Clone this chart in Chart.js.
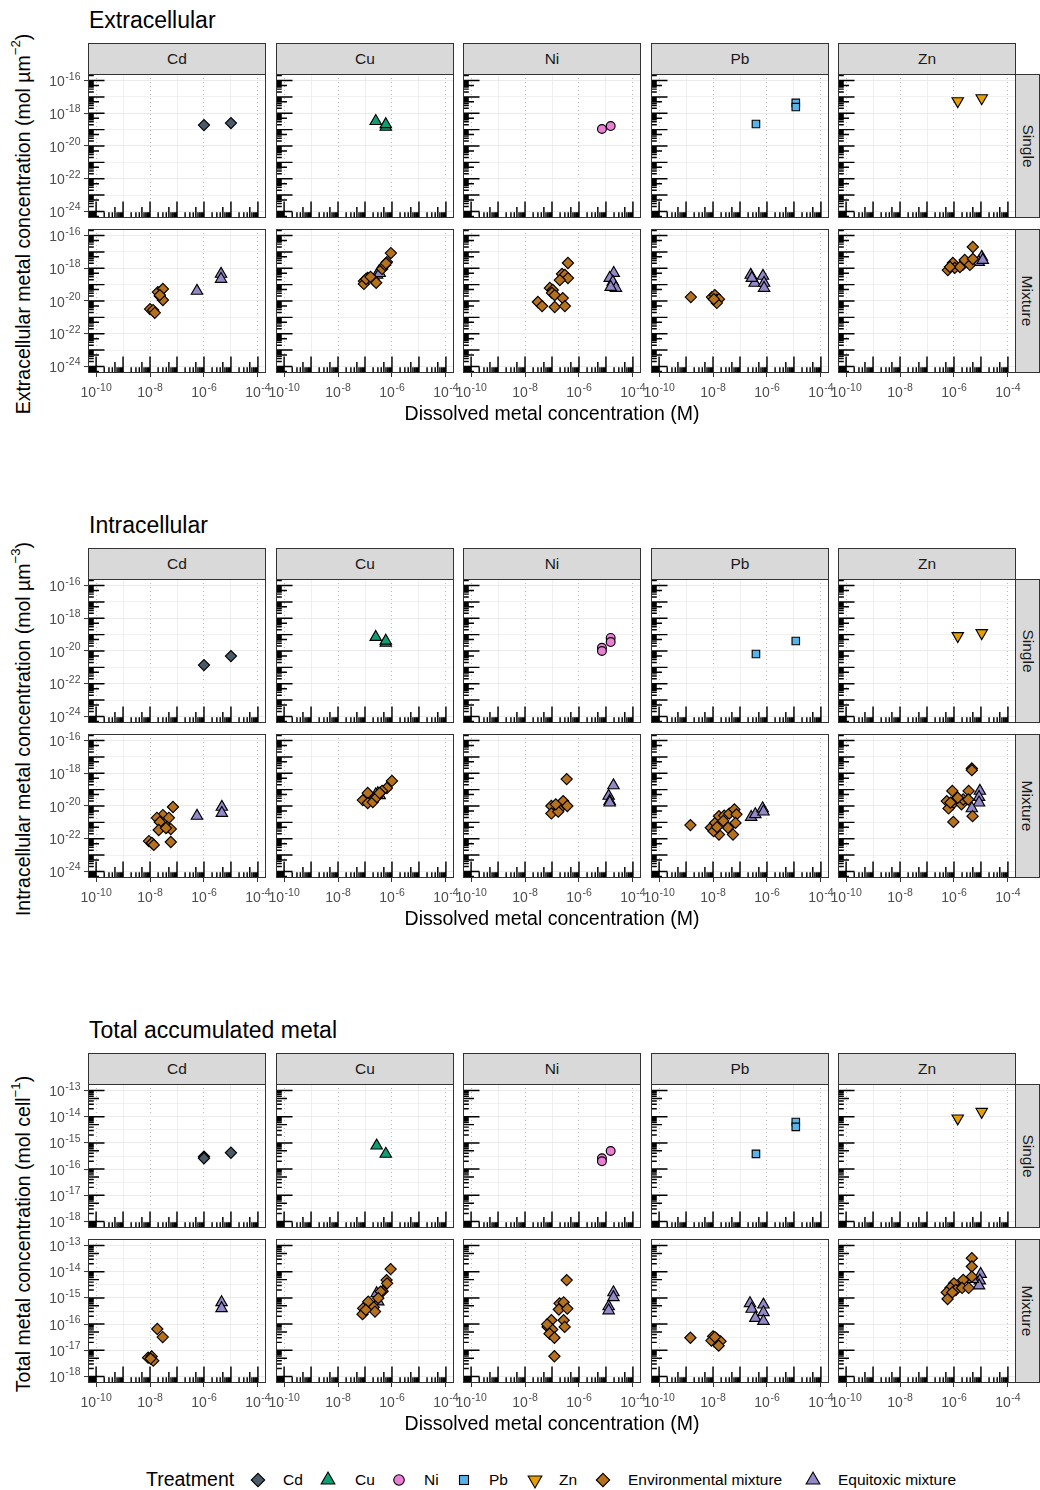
<!DOCTYPE html>
<html lang="en">
<head>
<meta charset="utf-8">
<title>Metal accumulation vs dissolved metal concentration</title>
<script src="https://cdn.jsdelivr.net/npm/chart.js@4.4.1/dist/chart.umd.min.js"></script>
<style>
  html, body { margin: 0; padding: 0; background: #ffffff; }
  body { position: relative; width: 1040px; height: 1490px; overflow: hidden;
         font-family: "Liberation Sans", Arial, Helvetica, sans-serif; color: #000; }
  .abs { position: absolute; white-space: nowrap; }
  .sec-title { font-size: 23px; line-height: 1; }
  .strip-top { background: #d9d9d9; border: 1px solid #333; box-sizing: border-box;
               display: flex; align-items: center; justify-content: center;
               font-size: 15.5px; color: #1a1a1a; }
  .strip-right { background: #d9d9d9; border: 1px solid #333; box-sizing: border-box;
                 display: flex; align-items: center; justify-content: center;
                 font-size: 15.5px; color: #1a1a1a; }
  .strip-right span { display: inline-block; transform: rotate(90deg); }
  .axis-title { font-size: 19.5px; line-height: 1; }
  .axis-title sup { font-size: 0.68em; position: relative; top: -0.15em; }
  .legend-title { font-size: 19.5px; line-height: 1; }
  .legend-text { font-size: 15.5px; line-height: 1; }
  canvas { position: absolute; }
</style>
</head>
<body>
<script>
// ---------------- data ----------------
const metals = ['Cd', 'Cu', 'Ni', 'Pb', 'Zn'];
const rowNames = ['Single', 'Mixture'];
const treatmentNames = ['Cd', 'Cu', 'Ni', 'Pb', 'Zn', 'Environmental mixture', 'Equitoxic mixture'];

// dissolved metal concentration axis (M)
const xLimits = [1e-10, 1e-4];
const xBreaks = [1e-10, 1e-8, 1e-6, 1e-4];
const xMinor = [1e-9, 1e-7, 1e-5];

// surface / volume based concentration axes (mol µm^-2, mol µm^-3)
const concLimits = [1e-24, 1e-16];
const concBreaks = [1e-24, 1e-22, 1e-20, 1e-18, 1e-16];
const concMinor = [1e-23, 1e-21, 1e-19, 1e-17];

// per-cell axis (mol cell^-1)
const cellLimits = [1e-18, 1e-13];
const cellBreaks = [1e-18, 1e-17, 1e-16, 1e-15, 1e-14, 1e-13];
const cellMinor = [3.16e-18, 3.16e-17, 3.16e-16, 3.16e-15, 3.16e-14];

// Extracellular, [dissolved M, mol µm^-2], one list per metal (Cd, Cu, Ni, Pb, Zn)
const extSingle = [
  [[1.0e-6, 1.9e-19], [1.0e-5, 2.5e-19]],
  [[2.5e-7, 3.3e-19], [5.9e-7, 1.45e-19], [5.9e-7, 2.1e-19]],
  [[7.1e-6, 1.1e-19], [1.5e-5, 1.65e-19]],
  [[3.9e-7, 2.2e-19], [1.17e-5, 4.3e-18], [1.17e-5, 2.4e-18]],
  [[1.38e-6, 5.6e-18], [1.07e-5, 8.5e-18]]
];
const extEnv = [
  [[1.95e-8, 3.5e-20], [3.0e-8, 5.4e-20], [2.3e-8, 2.0e-20], [3.0e-8, 1.15e-20], [1.0e-8, 3.2e-21],
   [1.3e-8, 2.8e-21], [1.5e-8, 1.9e-21], [2.3e-8, 2.3e-20]],
  [[9.1e-8, 1.65e-19], [9.1e-8, 1.1e-19], [1.26e-7, 2.6e-19], [2.1e-7, 1.9e-19], [4.3e-7, 9.1e-19],
   [5.5e-7, 1.6e-18], [6.5e-7, 2.4e-18], [9.1e-7, 8.5e-18], [1.1e-7, 2.2e-19], [2.6e-7, 1.3e-19],
   [1.6e-7, 3.0e-19], [6.0e-7, 2.0e-18]],
  [[3.9e-7, 2.1e-18], [2.35e-7, 4.5e-19], [3.0e-7, 3.9e-19], [3.9e-7, 2.5e-19], [1.95e-7, 1.9e-19],
   [8.3e-8, 6.2e-20], [1.07e-7, 4.7e-20], [1.0e-7, 3.1e-20], [1.26e-7, 2.3e-20], [2.5e-7, 1.5e-20],
   [3.0e-8, 8.7e-21], [4.3e-8, 4.9e-21], [1.26e-7, 4.3e-21], [3.0e-7, 4.9e-21]],
  [[1.5e-9, 1.74e-20], [9.1e-9, 1.74e-20], [1.17e-8, 2.3e-20], [1.38e-8, 1.15e-20], [1.66e-8, 1.3e-20],
   [1.38e-8, 7.6e-21], [1.07e-8, 1.3e-20]],
  [[5.9e-7, 7.8e-19], [9.1e-7, 2.1e-18], [1.07e-6, 1.05e-18], [2.1e-6, 1.6e-18], [2.5e-6, 3.2e-18],
   [3.9e-6, 1.6e-18], [5.0e-6, 3.7e-18], [5.0e-6, 2.0e-17], [1.66e-6, 1.2e-18], [7.1e-7, 1.2e-18]]
];
const extEqui = [
  [[5.5e-7, 4.1e-20], [4.3e-6, 4.5e-19], [4.3e-6, 2.2e-19]],
  [[2.8e-7, 4.0e-19], [3.2e-7, 6.0e-19], [3.5e-7, 5.0e-19]],
  [[1.95e-5, 5.1e-19], [1.38e-5, 2.5e-19], [1.8e-5, 1.45e-19], [2.35e-5, 6.2e-20], [1.5e-5, 7.1e-20]],
  [[2.5e-7, 3.9e-19], [3.5e-7, 1.26e-19], [7.1e-7, 3.4e-19], [7.8e-7, 1.26e-19], [7.8e-7, 6.2e-20],
   [2.75e-7, 2.5e-19]],
  [[1.07e-5, 4.9e-18], [8.3e-6, 2.4e-18], [1.17e-5, 3.2e-18]]
];

// Intracellular, [dissolved M, mol µm^-3]
const intSingle = [
  [[1.0e-6, 1.38e-21], [1.0e-5, 4.9e-21]],
  [[2.5e-7, 7.1e-20], [5.9e-7, 3.1e-20], [5.9e-7, 4.2e-20]],
  [[7.1e-6, 1.58e-20], [7.1e-6, 1.0e-20], [1.5e-5, 6.3e-20], [1.5e-5, 3.5e-20]],
  [[3.9e-7, 6.6e-21], [1.17e-5, 4.1e-20]],
  [[1.38e-6, 8.3e-20], [1.07e-5, 1.26e-19]]
];
const intEnv = [
  [[7.1e-8, 8.7e-21], [3.0e-8, 2.8e-21], [1.8e-8, 1.9e-21], [5.0e-8, 1.9e-21], [2.3e-8, 1.05e-21],
   [4.3e-8, 5.2e-22], [5.9e-8, 3.9e-22], [2.1e-8, 3.4e-22], [3.9e-8, 4.5e-22], [5.9e-8, 6.3e-23],
   [9.1e-9, 7.2e-23], [1.17e-8, 5.5e-23], [1.38e-8, 4.2e-23]],
  [[1.0e-6, 3.4e-19], [6.5e-7, 1.26e-19], [4.3e-7, 8.3e-20], [1.26e-7, 6.2e-20], [2.35e-7, 3.1e-20],
   [8.3e-8, 2.3e-20], [1.26e-7, 1.5e-20], [1.95e-7, 1.74e-20], [2.75e-7, 3.5e-20], [3.5e-7, 6.2e-20]],
  [[3.5e-7, 4.4e-19], [9.5e-8, 1.0e-20], [9.5e-8, 3.5e-21], [1.8e-7, 6.2e-21], [2.6e-7, 2.0e-20],
   [3.7e-7, 1.0e-20], [1.7e-7, 4.5e-21], [1.38e-7, 1.26e-20]],
  [[1.45e-9, 6.8e-22], [8.3e-9, 4.7e-22], [1.2e-8, 9.3e-22], [1.66e-8, 2.4e-21], [2.6e-8, 2.6e-21],
   [4.0e-8, 3.4e-21], [6.2e-8, 6.2e-21], [7.4e-8, 3.1e-21], [2.4e-8, 1.23e-21], [3.6e-8, 4.7e-22],
   [1.66e-8, 1.8e-22], [5.5e-8, 1.8e-22], [1.05e-8, 2.9e-22], [6.8e-8, 9.3e-22], [1.4e-8, 5.1e-22]],
  [[4.6e-6, 1.95e-18], [4.6e-6, 1.55e-18], [8.7e-7, 8.3e-20], [5.4e-7, 2.0e-20], [6.3e-7, 7.1e-21],
   [1.17e-6, 2.5e-20], [1.0e-6, 1.6e-20], [1.9e-6, 1.26e-20], [2.2e-6, 2.5e-20], [3.5e-6, 8.3e-20],
   [3.4e-6, 2.5e-20], [1.38e-6, 3.2e-20], [4.9e-6, 2.4e-21], [9.5e-7, 1.07e-21], [7.4e-7, 1.6e-20]]
];
const intEqui = [
  [[5.5e-7, 2.45e-21], [4.6e-6, 8.7e-21], [4.6e-6, 3.7e-21]],
  [[3.0e-7, 6.0e-20], [3.5e-7, 4.5e-20], [2.5e-7, 5.0e-20]],
  [[1.9e-5, 1.8e-19], [1.26e-5, 4.1e-20], [1.38e-5, 2.0e-20], [1.38e-5, 1.6e-20]],
  [[2.6e-7, 2.1e-21], [3.7e-7, 3.1e-21], [6.9e-7, 7.1e-21], [7.4e-7, 4.5e-21]],
  [[9.1e-6, 8.3e-20], [8.5e-6, 3.5e-20], [8.5e-6, 1.6e-20], [4.6e-6, 7.1e-21]]
];

// Total accumulated, [dissolved M, mol cell^-1]
const totSingle = [
  [[1.0e-6, 3.0e-16], [1.0e-6, 2.6e-16], [1.0e-5, 4.2e-16]],
  [[2.7e-7, 7.8e-16], [5.9e-7, 3.8e-16]],
  [[7.1e-6, 2.6e-16], [7.1e-6, 2.0e-16], [1.5e-5, 4.9e-16]],
  [[3.9e-7, 3.8e-16], [1.17e-5, 6.3e-15], [1.17e-5, 4.1e-15]],
  [[1.38e-6, 8.7e-15], [1.07e-5, 1.55e-14]]
];
const totEnv = [
  [[1.86e-8, 6.5e-17], [2.95e-8, 3.2e-17], [8.5e-9, 5.2e-18], [1.15e-8, 5.8e-18], [1.32e-8, 4.0e-18],
   [1.05e-8, 4.8e-18]],
  [[8.9e-7, 1.26e-14], [6.3e-7, 4.8e-15], [6.6e-7, 3.6e-15], [4.5e-7, 1.8e-15], [3.8e-7, 1.74e-15],
   [1.32e-7, 7.2e-16], [8.5e-8, 4.0e-16], [8.1e-8, 2.4e-16], [2.1e-7, 4.4e-16], [2.35e-7, 3.0e-16],
   [1.07e-7, 3.5e-16], [3.1e-7, 9.8e-16]],
  [[3.5e-7, 4.8e-15], [1.9e-7, 6.2e-16], [2.7e-7, 6.8e-16], [1.8e-7, 3.6e-16], [3.7e-7, 3.9e-16],
   [2.7e-7, 1.4e-16], [2.95e-7, 7.8e-17], [9.5e-8, 1.4e-16], [6.9e-8, 7.8e-17], [1.02e-7, 6.2e-17],
   [8.1e-8, 4.3e-17], [1.23e-7, 3.0e-17], [1.23e-7, 5.9e-18], [6.6e-8, 9.8e-17]],
  [[1.45e-9, 3.0e-17], [1.0e-8, 3.4e-17], [1.38e-8, 2.75e-17], [1.9e-8, 2.2e-17], [1.62e-8, 1.5e-17],
   [8.7e-9, 2.35e-17], [1.17e-8, 3.2e-17]],
  [[4.6e-6, 3.3e-14], [4.6e-6, 1.58e-14], [4.6e-6, 6.5e-15], [2.2e-6, 4.9e-15], [1.17e-6, 2.95e-15],
   [1.0e-6, 3.6e-15], [7.4e-7, 2.4e-15], [5.4e-7, 1.62e-15], [5.8e-7, 9.1e-16], [1.17e-6, 2.0e-15],
   [2.0e-6, 2.4e-15], [3.5e-6, 2.4e-15], [8.7e-7, 1.62e-15]]
];
const totEqui = [
  [[4.5e-6, 6.8e-16], [4.5e-6, 4.0e-16]],
  [[2.7e-7, 1.5e-15], [3.1e-7, 7.2e-16]],
  [[1.9e-5, 1.62e-15], [1.9e-5, 1.05e-15], [1.26e-5, 4.7e-16], [1.26e-5, 3.3e-16]],
  [[2.35e-7, 6.2e-16], [2.7e-7, 3.8e-16], [3.7e-7, 1.7e-16], [7.4e-7, 5.5e-16], [7.4e-7, 2.8e-16],
   [7.4e-7, 1.3e-16]],
  [[9.8e-6, 8.1e-15], [9.1e-6, 4.6e-15], [8.5e-6, 2.95e-15], [4.9e-6, 5.2e-15]]
];

// ---------------- styling ----------------
const singleStyles = [
  { shape: 'rectRot',  rotation: 0,   radius: 5.6, color: '#4b5a68' },  // Cd
  { shape: 'triangle', rotation: 0,   radius: 6.6, color: '#0e9e74' },  // Cu
  { shape: 'circle',   rotation: 0,   radius: 4.4, color: '#ea7fd6' },  // Ni
  { shape: 'rect',     rotation: 0,   radius: 5.3, color: '#56b4e9' },  // Pb
  { shape: 'triangle', rotation: 180, radius: 6.6, color: '#e69f00' }   // Zn
];
const envStyle  = { shape: 'rectRot',  rotation: 0, radius: 5.6, color: '#b5711c' };
const equiStyle = { shape: 'triangle', rotation: 0, radius: 6.6, color: '#9489c8' };

const sections = [
  { title: 'Extracellular', yTitle: 'Extracellular metal concentration (mol µm<sup>−2</sup>)',
    single: extSingle, env: extEnv, equi: extEqui, yLimits: concLimits, yBreaks: concBreaks, yMinor: concMinor },
  { title: 'Intracellular', yTitle: 'Intracellular metal concentration (mol µm<sup>−3</sup>)',
    single: intSingle, env: intEnv, equi: intEqui, yLimits: concLimits, yBreaks: concBreaks, yMinor: concMinor },
  { title: 'Total accumulated metal', yTitle: 'Total metal concentration (mol cell<sup>−1</sup>)',
    single: totSingle, env: totEnv, equi: totEqui, yLimits: cellLimits, yBreaks: cellBreaks, yMinor: cellMinor }
];

// ---------------- page geometry ----------------
const COL_LEFT = [88, 276, 463, 651, 838];
const PANEL_W = 178, PANEL_H = 144;
const ROW_TOP = [74, 229];
const STRIP_TOP = 43, STRIP_H = 31;
const SEC_OFF = [0, 505, 1010];
const PAD_L = 50, PAD_R = 22, PAD_T = 2, PAD_B = 34;
const TICK_SHORT = 5.8, TICK_MID = 11, TICK_LONG = 16.5;
const LABEL_FONT = '"Liberation Sans", Arial, sans-serif';

// log-space 5% expansion on both ends of a range
function expand(lims) {
  const a = Math.log10(lims[0]), b = Math.log10(lims[1]), e = (b - a) * 0.05;
  return [Math.pow(10, a - e), Math.pow(10, b + e)];
}
function inList(tick, list) {
  if (!tick) return false;
  const lv = Math.log10(tick.value);
  return list.some(v => Math.abs(Math.log10(v) - lv) < 1e-6);
}
const CLEAR = 'rgba(0,0,0,0)';

// "10" with a raised exponent, anchored right or centred
function drawPower(ctx, value, anchorX, baseline, align) {
  const exp = Math.round(Math.log10(value));
  const base = '10', sup = String(exp);
  ctx.font = '14px ' + LABEL_FONT;
  const wb = ctx.measureText(base).width;
  ctx.font = '10.5px ' + LABEL_FONT;
  const ws = ctx.measureText(sup).width;
  const total = wb + 0.6 + ws;
  const x0 = align === 'right' ? anchorX - total : anchorX - total / 2;
  ctx.fillStyle = '#4d4d4d';
  ctx.textAlign = 'left';
  ctx.textBaseline = 'alphabetic';
  ctx.font = '14px ' + LABEL_FONT;
  ctx.fillText(base, x0, baseline);
  ctx.font = '10.5px ' + LABEL_FONT;
  ctx.fillText(sup, x0 + wb + 0.6, baseline - 6.5);
}

// log tick annotations along the left and bottom edge of a panel
function logMarks(ctx, scale, area, horizontal) {
  const lo = Math.floor(Math.log10(scale.min)), hi = Math.ceil(Math.log10(scale.max));
  for (let d = lo; d <= hi; d++) {
    for (let k = 1; k <= 9; k++) {
      const v = k * Math.pow(10, d);
      if (v < scale.min || v > scale.max) continue;
      const len = k === 1 ? TICK_LONG : (k === 5 ? TICK_MID : TICK_SHORT);
      const p = scale.getPixelForValue(v);
      if (horizontal) { ctx.moveTo(p, area.bottom); ctx.lineTo(p, area.bottom - len); }
      else { ctx.moveTo(area.left, p); ctx.lineTo(area.left + len, p); }
    }
  }
}

function panelDecor(cfg) {
  return {
    id: 'panelDecor',
    beforeDatasetsDraw(chart) {
      const { ctx, chartArea: a } = chart;
      ctx.save();
      ctx.beginPath();
      ctx.rect(a.left, a.top, a.right - a.left, a.bottom - a.top);
      ctx.clip();
      ctx.beginPath();
      ctx.strokeStyle = '#000';
      ctx.lineWidth = 1.45;
      logMarks(ctx, chart.scales.y, a, false);
      logMarks(ctx, chart.scales.x, a, true);
      ctx.stroke();
      ctx.restore();
    },
    afterDraw(chart) {
      const { ctx, chartArea: a } = chart;
      ctx.save();
      ctx.strokeStyle = '#333';
      ctx.lineWidth = 1;
      ctx.strokeRect(a.left + 0.5, a.top + 0.5, a.right - a.left - 1, a.bottom - a.top - 1);
      if (cfg.showY) {
        cfg.yBreaks.forEach(v => drawPower(ctx, v, a.left - 7.5, chart.scales.y.getPixelForValue(v) + 5.5, 'right'));
      }
      if (cfg.showX) {
        cfg.xBreaks.forEach(v => drawPower(ctx, v, chart.scales.x.getPixelForValue(v), a.bottom + 24, 'center'));
      }
      ctx.restore();
    }
  };
}

function pointSet(label, pts, st) {
  return {
    label,
    data: pts.map(([x, y]) => ({ x, y })),
    showLine: false,
    pointStyle: st.shape,
    pointRotation: st.rotation,
    pointRadius: st.radius,
    pointHoverRadius: st.radius,
    pointBackgroundColor: st.color,
    pointBorderColor: '#000',
    pointBorderWidth: 1.15
  };
}

function buildPanel(sec, si, row, col) {
  const off = SEC_OFF[si];
  const L = COL_LEFT[col], T = off + ROW_TOP[row];
  const showX = row === 1, showY = col === 0;
  const cw = PANEL_W + PAD_L + PAD_R;
  const ch = PANEL_H + PAD_T + (showX ? PAD_B : 4);
  const cv = document.createElement('canvas');
  cv.width = cw; cv.height = ch;
  cv.style.left = (L - PAD_L) + 'px';
  cv.style.top = (T - PAD_T) + 'px';
  cv.style.width = cw + 'px';
  cv.style.height = ch + 'px';
  document.body.appendChild(cv);

  const datasets = row === 0
    ? [pointSet(metals[col], sec.single[col], singleStyles[col])]
    : [pointSet('Environmental mixture', sec.env[col], envStyle),
       pointSet('Equitoxic mixture', sec.equi[col], equiStyle)];

  const xr = expand(xLimits), yr = expand(sec.yLimits);
  const xAll = xBreaks.concat(xMinor).sort((p, q) => p - q);
  const yAll = sec.yBreaks.concat(sec.yMinor).sort((p, q) => p - q);

  new Chart(cv, {
    type: 'scatter',
    data: { datasets },
    options: {
      responsive: false,
      animation: false,
      devicePixelRatio: 1,
      events: [],
      layout: { autoPadding: false, padding: { left: PAD_L, right: PAD_R, top: PAD_T, bottom: ch - PAD_T - PANEL_H } },
      plugins: { legend: { display: false }, tooltip: { enabled: false } },
      scales: {
        x: {
          type: 'logarithmic', position: 'bottom', min: xr[0], max: xr[1],
          afterBuildTicks: s => { s.ticks = xAll.map(v => ({ value: v })); },
          afterFit: s => { s.height = 0; },
          ticks: { display: false },
          border: { display: false },
          grid: {
            color: c => inList(c.tick, xMinor) ? '#ebebeb' : CLEAR,
            lineWidth: 0.8,
            drawTicks: true, tickLength: 4, tickWidth: 1,
            tickColor: c => (showX && inList(c.tick, xBreaks)) ? '#333' : CLEAR
          }
        },
        xd: {
          type: 'logarithmic', position: 'bottom', min: xr[0], max: xr[1],
          afterBuildTicks: s => { s.ticks = xBreaks.map(v => ({ value: v })); },
          afterFit: s => { s.height = 0; },
          ticks: { display: false },
          border: { display: false, dash: [1, 3] },
          grid: { color: '#b8b8b8', lineWidth: 1, drawTicks: false }
        },
        y: {
          type: 'logarithmic', position: 'left', min: yr[0], max: yr[1],
          afterBuildTicks: s => { s.ticks = yAll.map(v => ({ value: v })); },
          afterFit: s => { s.width = 0; },
          ticks: { display: false },
          border: { display: false },
          grid: {
            color: '#ebebeb',
            lineWidth: c => inList(c.tick, sec.yMinor) ? 0.7 : 1.1,
            drawTicks: true, tickLength: 4, tickWidth: 1,
            tickColor: c => (showY && inList(c.tick, sec.yBreaks)) ? '#333' : CLEAR
          }
        }
      }
    },
    plugins: [panelDecor({ showX, showY, xBreaks, yBreaks: sec.yBreaks })]
  });
}

function addDiv(cls, html, css) {
  const d = document.createElement('div');
  d.className = 'abs ' + cls;
  d.innerHTML = html;
  d.style.cssText = css;
  document.body.appendChild(d);
  return d;
}

sections.forEach((sec, si) => {
  const off = SEC_OFF[si];
  addDiv('sec-title', sec.title, `left:89px;top:${off + 9}px;`);
  metals.forEach((m, col) => {
    addDiv('strip-top', m, `left:${COL_LEFT[col]}px;top:${off + STRIP_TOP}px;width:${PANEL_W}px;height:${STRIP_H + 1}px;`);
  });
  rowNames.forEach((r, row) => {
    addDiv('strip-right', `<span>${r}</span>`,
      `left:${COL_LEFT[4] + PANEL_W - 1}px;top:${off + ROW_TOP[row]}px;width:${1040 - (COL_LEFT[4] + PANEL_W - 1)}px;height:${PANEL_H}px;`);
  });
  for (let row = 0; row < 2; row++) {
    for (let col = 0; col < 5; col++) buildPanel(sec, si, row, col);
  }
  const midY = off + (ROW_TOP[0] + ROW_TOP[1] + PANEL_H) / 2;
  addDiv('axis-title', sec.yTitle, `left:22px;top:${midY}px;transform:translate(-50%,-50%) rotate(-90deg);`);
  addDiv('axis-title', 'Dissolved metal concentration (M)',
    `left:${(COL_LEFT[0] + COL_LEFT[4] + PANEL_W) / 2}px;top:${off + 414}px;transform:translate(-50%,-50%);`);
});

// ---------------- legend ----------------
const legendStyles = singleStyles.concat([envStyle, equiStyle]);
const LEGEND_Y = 1480;
const legendIconX = [258, 328, 399, 464, 535, 603, 813];
const legendTextX = [283, 355, 424, 489, 559, 628, 838];

function legendIcon(st) {
  const c = 10, s = 1.2;
  let shape;
  if (st.shape === 'rectRot') {
    const r = st.radius * s;
    shape = `<polygon points="${c},${c - r} ${c + r},${c} ${c},${c + r} ${c - r},${c}"/>`;
  } else if (st.shape === 'triangle') {
    const r = st.radius * s, dir = st.rotation === 180 ? -1 : 1;
    const h = r * Math.sqrt(3) / 2;
    shape = `<polygon points="${c},${c - dir * r} ${c + h},${c + dir * r / 2} ${c - h},${c + dir * r / 2}"/>`;
  } else if (st.shape === 'circle') {
    shape = `<circle cx="${c}" cy="${c}" r="${st.radius * s}"/>`;
  } else {
    const h = st.radius * s * Math.SQRT1_2;
    shape = `<rect x="${c - h}" y="${c - h}" width="${2 * h}" height="${2 * h}"/>`;
  }
  return `<svg width="20" height="20" viewBox="0 0 20 20" style="display:block">` +
         `<g fill="${st.color}" stroke="#000" stroke-width="1.1">${shape}</g></svg>`;
}

addDiv('legend-title', 'Treatment', `left:146px;top:${LEGEND_Y - 10}px;`);
treatmentNames.forEach((name, i) => {
  addDiv('', legendIcon(legendStyles[i]), `left:${legendIconX[i] - 10}px;top:${LEGEND_Y - 10}px;`);
  addDiv('legend-text', name, `left:${legendTextX[i]}px;top:${LEGEND_Y - 8}px;`);
});
</script>
</body>
</html>
